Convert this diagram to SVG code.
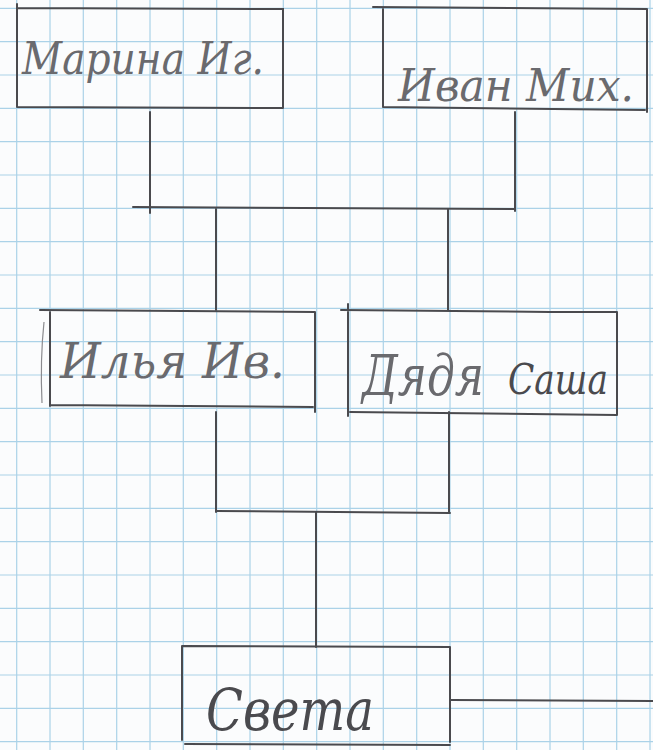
<svg xmlns="http://www.w3.org/2000/svg" width="653" height="750" viewBox="0 0 653 750">
  <defs>
    <style>
      .grid { fill: none; stroke: #abd2e8; stroke-width: 1.2; }
      .box { fill: none; stroke: #4a4a4e; stroke-width: 2; stroke-linecap: round; }
      .wire { fill: none; stroke: #4a4a4e; stroke-width: 2; stroke-linecap: round; }
      .hand { font-family: "DejaVu Serif", "Liberation Serif", serif; font-style: italic; fill: #6a6a6e; }
      .dark { fill: #4a4a4e; }
    </style>
  </defs>
  <rect x="0" y="0" width="653" height="750" fill="#fbfcfd"/>
  <path class="grid" d="M16.7 0 V750 M50 0 V750 M83.3 0 V750 M116.7 0 V750 M150 0 V750 M183.3 0 V750 M216.7 0 V750 M250 0 V750 M283.3 0 V750 M316.7 0 V750 M350 0 V750 M383.3 0 V750 M416.7 0 V750 M450 0 V750 M483.3 0 V750 M516.7 0 V750 M550 0 V750 M583.3 0 V750 M616.7 0 V750 M650 0 V750 M0 8.3 H653 M0 41.7 H653 M0 75 H653 M0 108.3 H653 M0 141.7 H653 M0 175 H653 M0 208.3 H653 M0 241.7 H653 M0 275 H653 M0 308.3 H653 M0 341.7 H653 M0 375 H653 M0 408.3 H653 M0 441.7 H653 M0 475 H653 M0 508.3 H653 M0 541.7 H653 M0 575 H653 M0 608.3 H653 M0 641.7 H653 M0 675 H653 M0 708.3 H653 M0 741.7 H653"/>

  <g id="connectors">
    <path class="wire" d="M150 112 V213"/>
    <path class="wire" d="M515 112 V211"/>
    <path class="wire" d="M133 207 L515 209"/>
    <path class="wire" d="M216 209 V310"/>
    <path class="wire" d="M448 209 V310"/>
    <path class="wire" d="M216 412 V512"/>
    <path class="wire" d="M449 412 V513"/>
    <path class="wire" d="M216 511 L450 513"/>
    <path class="wire" d="M316 512 V647"/>
    <path class="wire" d="M451 700 L653 701"/>
  </g>

  <g id="node-marina">
    <path class="box" d="M17 4 V107 M17 8 L283 9 V108 M17 107 L283 108"/>
    <text class="hand" x="22" y="74" font-size="44" textLength="242" lengthAdjust="spacingAndGlyphs">Марина Иг.</text>
  </g>

  <g id="node-ivan">
    <path class="box" d="M373 7 L647 9 M383 9 V107 M647 9 V112 M383 107 L645 110"/>
    <text class="hand" x="398" y="101" font-size="44" textLength="236" lengthAdjust="spacingAndGlyphs">Иван Мих.</text>
  </g>

  <g id="node-ilya">
    <path class="box" d="M40 310 L315 312 M50 312 V406 M315 312 V412 M50 405 L313 407"/>
    <path d="M44 322 Q40 360 42 403" fill="none" stroke="#8a8a8e" stroke-width="1.2"/>
    <text class="hand" x="60" y="378" font-size="48" textLength="225" lengthAdjust="spacingAndGlyphs">Илья Ив.</text>
  </g>

  <g id="node-sasha">
    <path class="box" d="M341 310 L550 312 H617 M348 304 V416 M617 312 V415 M350 412 L617 415"/>
    <text class="hand" x="362" y="395" font-size="56" textLength="122" lengthAdjust="spacingAndGlyphs">Дядя</text>
    <text class="hand dark" x="508" y="394" font-size="42" textLength="100" lengthAdjust="spacingAndGlyphs">Саша</text>
  </g>

  <g id="node-sveta">
    <path class="box" d="M182 646 L450 647 M182 646 V740 M450 647 V742 M185 744 L450 745"/>
    <text class="hand dark" x="206" y="730" font-size="58" textLength="168" lengthAdjust="spacingAndGlyphs">Света</text>
  </g>
</svg>
